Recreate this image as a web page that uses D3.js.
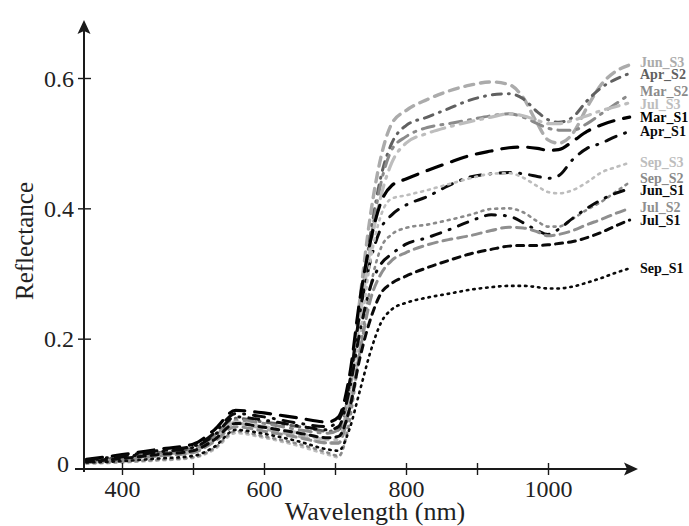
<!DOCTYPE html>
<html><head><meta charset="utf-8">
<script src="https://cdn.jsdelivr.net/npm/d3@7"></script>
<style>body{margin:0;background:#fff}svg{display:block}</style>
</head><body>
<svg id="chart" width="689" height="526"></svg>
<script>
// ---- data ----
const wavelengths = [350,400,450,500,530,560,600,650,690,705,720,735,750,765,780,800,830,860,890,920,945,965,985,1000,1015,1035,1055,1075,1095,1115];

const Jun_S3 = [0.01,0.015,0.022,0.028,0.045,0.07,0.062,0.05,0.04,0.04, 0.12,0.26,0.39,0.48,0.53, 0.55,0.567,0.58,0.589,0.594,0.59,0.57,0.53,0.505,0.5,0.515,0.555,0.59,0.61,0.62];
const Apr_S2 = [0.012,0.018,0.025,0.032,0.05,0.078,0.072,0.065,0.058,0.06, 0.12,0.24,0.36,0.45,0.5, 0.527,0.54,0.553,0.566,0.574,0.576,0.568,0.548,0.536,0.532,0.54,0.565,0.585,0.598,0.607];
const Mar_S2 = [0.012,0.017,0.024,0.03,0.05,0.075,0.07,0.06,0.055,0.06, 0.12,0.24,0.35,0.44,0.49, 0.51,0.524,0.53,0.536,0.542,0.545,0.54,0.53,0.523,0.52,0.52,0.53,0.545,0.56,0.575];
const Jul_S3 = [0.01,0.014,0.02,0.026,0.045,0.072,0.065,0.055,0.045,0.045, 0.11,0.23,0.34,0.42,0.47, 0.5,0.515,0.525,0.533,0.54,0.545,0.542,0.535,0.53,0.53,0.535,0.542,0.55,0.556,0.562];
const Mar_S1 = [0.015,0.022,0.03,0.038,0.06,0.09,0.086,0.078,0.072,0.08, 0.14,0.26,0.35,0.41,0.435, 0.445,0.458,0.47,0.481,0.488,0.493,0.494,0.492,0.489,0.49,0.503,0.518,0.528,0.535,0.54];
const Apr_S1 = [0.014,0.02,0.028,0.035,0.055,0.085,0.08,0.07,0.065,0.075, 0.13,0.24,0.32,0.37,0.39, 0.405,0.418,0.435,0.448,0.453,0.455,0.453,0.449,0.446,0.45,0.475,0.492,0.5,0.51,0.518];
const Sep_S3 = [0.008,0.01,0.013,0.017,0.03,0.055,0.048,0.035,0.022,0.018, 0.08,0.2,0.32,0.39,0.415, 0.42,0.428,0.437,0.446,0.453,0.454,0.447,0.434,0.425,0.423,0.428,0.44,0.455,0.463,0.47];
const Sep_S2 = [0.009,0.011,0.014,0.018,0.032,0.058,0.05,0.038,0.025,0.02, 0.07,0.18,0.28,0.34,0.36, 0.37,0.375,0.382,0.39,0.399,0.4,0.394,0.38,0.372,0.372,0.384,0.398,0.41,0.425,0.44];
const Jun_S1 = [0.012,0.018,0.026,0.033,0.052,0.08,0.075,0.066,0.06,0.065, 0.12,0.21,0.28,0.315,0.33, 0.345,0.355,0.367,0.38,0.39,0.388,0.378,0.366,0.36,0.368,0.385,0.4,0.413,0.423,0.43];
const Jul_S2 = [0.01,0.014,0.02,0.025,0.042,0.065,0.058,0.048,0.04,0.04, 0.09,0.18,0.26,0.3,0.32, 0.332,0.344,0.352,0.358,0.366,0.371,0.37,0.364,0.358,0.36,0.366,0.375,0.383,0.392,0.40];
const Jul_S1 = [0.011,0.016,0.022,0.028,0.045,0.07,0.064,0.055,0.048,0.05, 0.09,0.17,0.23,0.27,0.285, 0.296,0.309,0.32,0.33,0.337,0.342,0.343,0.343,0.344,0.346,0.349,0.355,0.363,0.373,0.382];
const Sep_S1 = [0.01,0.012,0.016,0.02,0.034,0.06,0.054,0.042,0.03,0.028, 0.06,0.12,0.18,0.225,0.245, 0.255,0.263,0.269,0.275,0.279,0.281,0.281,0.279,0.277,0.277,0.28,0.286,0.293,0.301,0.308];

const seriesNames = ["Jun_S3","Apr_S2","Mar_S2","Jul_S3","Mar_S1","Apr_S1","Sep_S3","Sep_S2","Jun_S1","Jul_S2","Jul_S1","Sep_S1"];
const seriesValues = [Jun_S3,Apr_S2,Mar_S2,Jul_S3,Mar_S1,Apr_S1,Sep_S3,Sep_S2,Jun_S1,Jul_S2,Jul_S1,Sep_S1];

const xTicks = [400,500,600,700,800,900,1000];
const xTickLabels = ["400","","600","","800","","1000"];
const yTicks = [0,0.2,0.4,0.6];
const yTickLabels = ["0","0.2","0.4","0.6"];

// ---- styles ----
const seriesColors = ["#ababab","#606060","#8a8a8a","#bdbdbd","#000","#0a0a0a","#bdbdbd","#8a8a8a","#0a0a0a","#8f8f8f","#0a0a0a","#0a0a0a"];
const seriesDash = ["9,7","9,7,1,7","12,7,2,7","14,7,2,7","16,10","11,9,1,9","2,5","2,5","10,9,1,9","9,6","7,6","1.5,5"];
const seriesWidth = [3.4,3,3,3.2,3.2,3,2.6,2.6,3,3,3,2.6];

const svg = d3.select("#chart");
const x = d3.scaleLinear().domain([400,1000]).range([122,548]);
const y = d3.scaleLinear().domain([0,0.6]).range([469,78]);
const serif = "'Liberation Serif','Times New Roman',serif";
const axisColor = "#1a1a1a";

// curves
const line = d3.line().x(d=>x(d[0])).y(d=>y(d[1])).curve(d3.curveMonotoneX);
seriesValues.forEach((vals,i)=>{
  svg.append("path")
    .attr("d", line(wavelengths.map((w,j)=>[w,vals[j]])))
    .attr("fill","none")
    .attr("stroke",seriesColors[i])
    .attr("stroke-width",seriesWidth[i])
    .attr("stroke-linecap","round")
    .attr("stroke-dasharray",seriesDash[i]);
});

// x axis
const xAxis = d3.axisBottom(x).tickValues(xTicks).tickSize(6).tickFormat((d,i)=>xTickLabels[i]);
const gx = svg.append("g").attr("transform",`translate(0,${y(0)})`).call(xAxis);
gx.select(".domain").remove();
gx.selectAll(".tick line").attr("y1",-6).attr("y2",6).attr("stroke",axisColor).attr("stroke-width",1.4);
gx.selectAll(".tick text").attr("font-family",serif).attr("font-size",24).attr("fill","#222").attr("y",28).attr("dy",0);
svg.append("line").attr("x1",75).attr("x2",630).attr("y1",y(0)).attr("y2",y(0)).attr("stroke",axisColor).attr("stroke-width",2);
svg.append("path").attr("d",`M638,${y(0)} L624,${y(0)-6.5} L627,${y(0)} L624,${y(0)+6.5} Z`).attr("fill",axisColor);

// y axis
const yAxis = d3.axisLeft(y).tickValues(yTicks).tickSize(6).tickFormat((d,i)=>yTickLabels[i]);
const gy = svg.append("g").attr("transform",`translate(84,0)`).call(yAxis);
gy.select(".domain").remove();
gy.selectAll(".tick line").attr("x1",-6).attr("x2",7).attr("stroke",axisColor).attr("stroke-width",1.4);
gy.selectAll(".tick text").attr("font-family",serif).attr("font-size",24).attr("fill","#222").attr("x",-10).attr("dy","0.34em");
gy.selectAll(".tick").filter(d=>d===0).select("text").attr("x",-15).attr("dy","0.1em");
gy.selectAll(".tick").filter(d=>d===0).select("line").remove();
svg.append("line").attr("x1",84).attr("x2",84).attr("y1",472).attr("y2",30).attr("stroke",axisColor).attr("stroke-width",2);
svg.append("path").attr("d",`M84,20 L77.5,34 L84,31 L90.5,34 Z`).attr("fill",axisColor);

// axis titles
svg.append("text").attr("x",375).attr("y",520).attr("text-anchor","middle")
  .attr("font-family",serif).attr("font-size",26).attr("fill","#222").text("Wavelength (nm)");
svg.append("text").attr("transform","translate(33,241) rotate(-90)").attr("text-anchor","middle")
  .attr("font-family",serif).attr("font-size",25).attr("fill","#222").text("Reflectance");

// series labels at line ends with simple collision relaxation
const labels = seriesNames.map((n,i)=>({name:n,i,y:y(seriesValues[i][seriesValues[i].length-1])}));
labels.sort((a,b)=>a.y-b.y);
const gap = 12.5;
for(let k=0;k<60;k++){
  for(let j=1;j<labels.length;j++){
    const d = labels[j].y - labels[j-1].y;
    if(d<gap){const s=(gap-d)/2;labels[j].y+=s*0.6;labels[j-1].y-=s*1.4;}
  }
}
labels.forEach(l=>{
  svg.append("text").attr("x",640).attr("y",l.y).attr("dy","0.33em")
    .attr("font-family",serif).attr("font-weight","bold").attr("font-size",14)
    .attr("fill",seriesColors[l.i]).text(l.name);
});
</script>
</body></html>
